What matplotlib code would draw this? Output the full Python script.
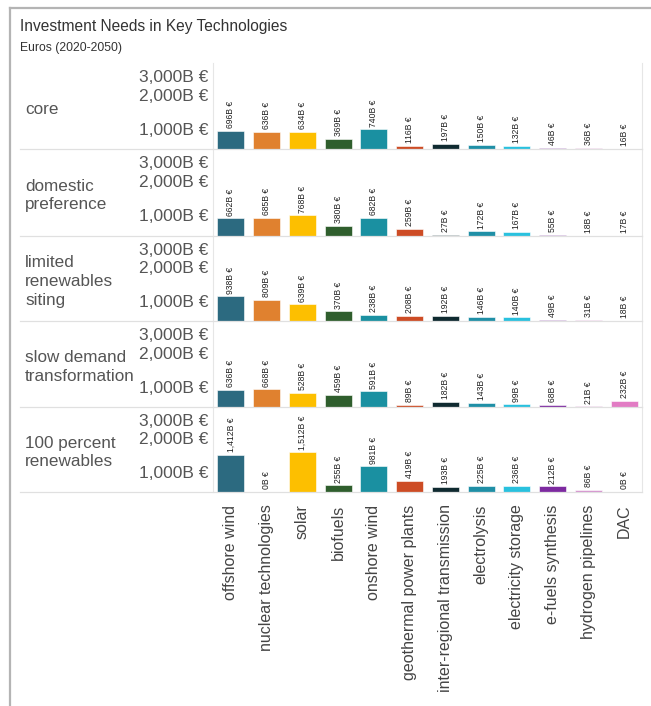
import numpy as np
import matplotlib.pyplot as plt
from matplotlib.lines import Line2D

plt.rcParams['font.family'] = ['Liberation Sans', 'DejaVu Sans']

# technologies on the x axis
techs = ['offshore wind', 'nuclear technologies', 'solar', 'biofuels', 'onshore wind',
         'geothermal power plants', 'inter-regional transmission', 'electrolysis',
         'electricity storage', 'e-fuels synthesis', 'hydrogen pipelines', 'DAC']
tech_colors = ['#2c6a80', '#e0812f', '#fdbf00', '#2f5e2d', '#1a90a1', '#cd4c25',
               '#0f2a30', '#1f8fa6', '#29c1de', '#7d2aa0', '#d592cf', '#e27cc4']

# scenarios (rows) and investment in billion euros, 2020-2050
scenarios = ['core', 'domestic\npreference', 'limited\nrenewables\nsiting',
             'slow demand\ntransformation', '100 percent\nrenewables']
core = [696, 636, 634, 369, 740, 116, 197, 150, 132, 46, 36, 16]
domestic = [662, 685, 768, 380, 682, 259, 27, 172, 167, 55, 18, 17]
limited_res = [938, 809, 639, 370, 238, 208, 192, 146, 140, 49, 31, 18]
slow_demand = [636, 668, 528, 459, 591, 89, 182, 143, 99, 68, 21, 232]
full_res = [1412, 0, 1512, 255, 981, 419, 193, 225, 236, 212, 86, 0]
values = [core, domestic, limited_res, slow_demand, full_res]

yticks = [1000, 2000, 3000]

W, H = 651, 706
fig = plt.figure(figsize=(W / 100, H / 100), dpi=100)

def fx(px):
    return px / W

def fy(px):
    return 1 - px / H

# outer frame (top and left only)
fig.add_artist(Line2D([fx(10), 1], [fy(8), fy(8)], color='#b4b4b4', lw=1.6))
fig.add_artist(Line2D([fx(10), fx(10)], [fy(8), 0], color='#b4b4b4', lw=1.6))

fig.text(fx(20), fy(26), 'Investment Needs in Key Technologies', fontsize=11.2,
         color='#333333', va='center', ha='left')
fig.text(fx(20), fy(48), 'Euros (2020-2050)', fontsize=8.7, color='#333333',
         va='center', ha='left')

row_edges = [63, 149, 236, 321, 407, 492]
x0, x1 = 213, 642
x = np.arange(len(techs))

for i, (name, vals) in enumerate(zip(scenarios, values)):
    top, bot = row_edges[i], row_edges[i + 1]
    ax = fig.add_axes([fx(x0), fy(bot), fx(x1 - x0), (bot - top) / H])
    ax.bar(x, vals, width=0.76, color=tech_colors, edgecolor='white', linewidth=0.4)
    ax.set_xlim(-0.5, len(techs) - 0.5)
    ax.set_ylim(0, 3250)
    for s in ['top', 'bottom']:
        ax.spines[s].set_visible(False)
    for s in ['left', 'right']:
        ax.spines[s].set_color('#e6e6e6')
        ax.spines[s].set_linewidth(0.8)
    ax.set_yticks(yticks)
    ax.set_yticklabels([f'{t:,}B €' for t in yticks])
    ax.tick_params(axis='y', length=0, pad=3, labelsize=12.5, labelcolor='#555555')
    for lab, va in zip(ax.get_yticklabels(), ['top', 'center', 'top']):
        lab.set_va(va)
    for xi, v in zip(x, vals):
        ax.annotate(f'{v:,}B €', (xi, v), xytext=(0, 2), textcoords='offset points',
                    rotation=90, ha='center', va='bottom', fontsize=6.2, color='#222222')
    if i < len(scenarios) - 1:
        ax.set_xticks([])
    else:
        ax.set_xticks(x)
        ax.set_xticklabels(techs, rotation=90, fontsize=11.5, color='#444444')
        ax.tick_params(axis='x', length=0, pad=9)
    fig.text(fx(25), fy((top + bot) / 2 + 3), name, fontsize=12.3, color='#555555',
             va='center', ha='left', linespacing=1.3)
    # row separator
    fig.add_artist(Line2D([fx(20), fx(x1)], [fy(bot), fy(bot)], color='#e0e0e0', lw=0.9))

fig.savefig('out.png', dpi=100)
